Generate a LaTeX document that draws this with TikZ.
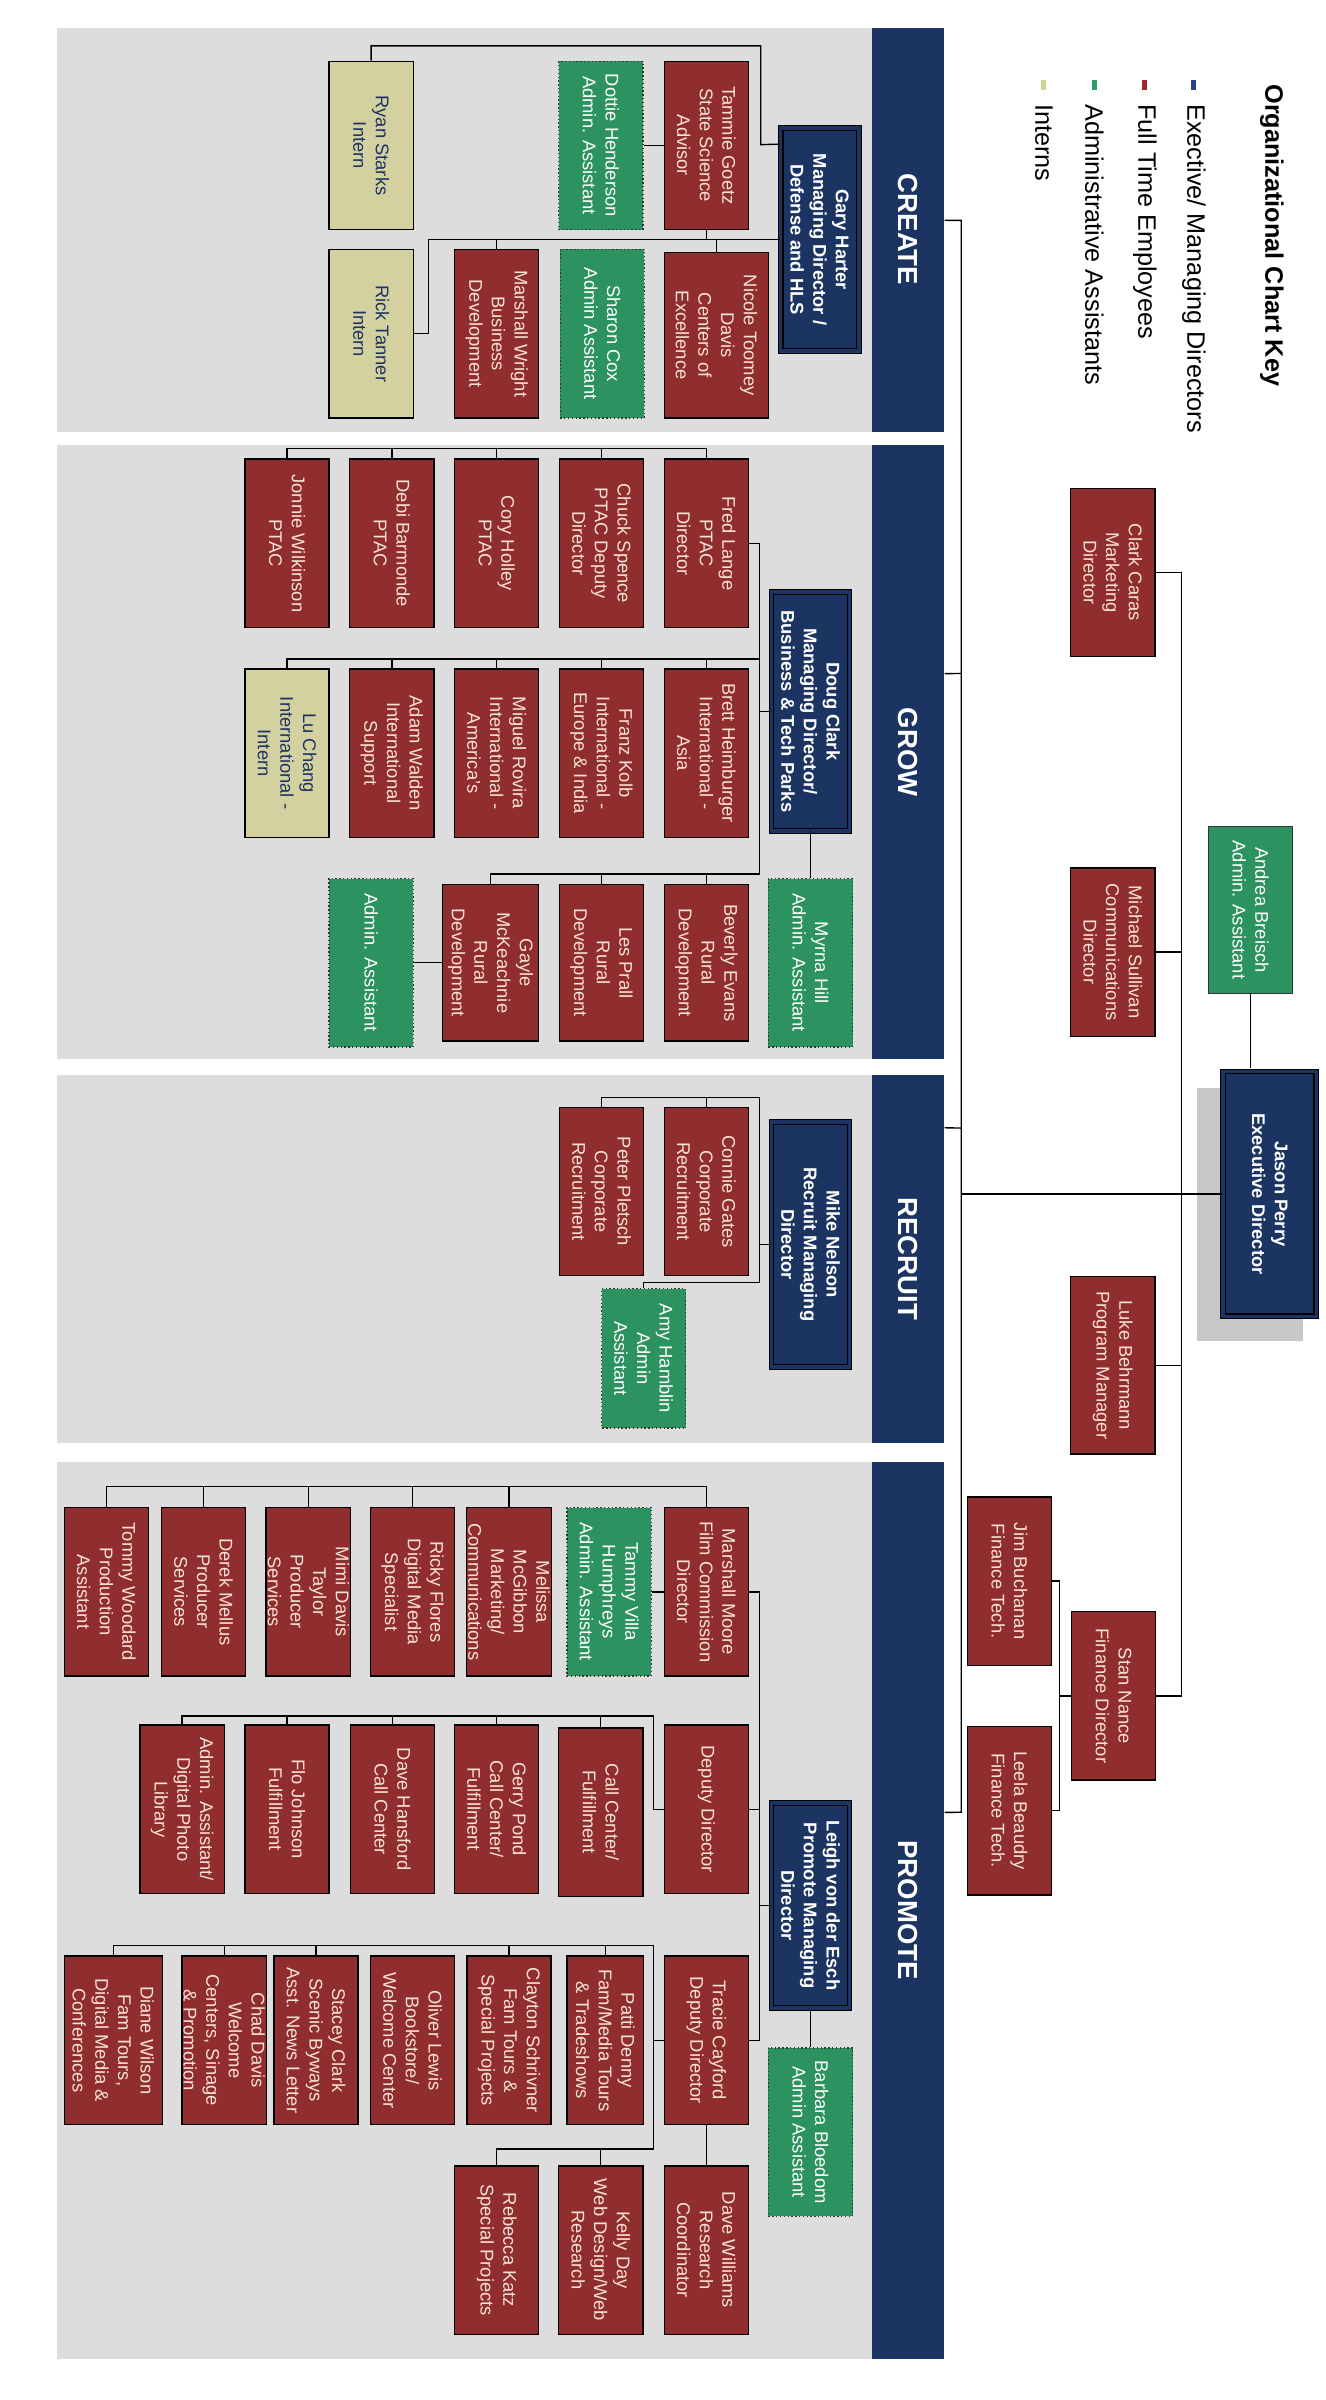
\documentclass[tikz,border=0pt]{standalone}
\usepackage{fontspec}
\setmainfont{Liberation Sans}
\usetikzlibrary{calc}

\definecolor{navy}{RGB}{27,52,97}
\definecolor{staffred}{RGB}{143,45,47}
\definecolor{stafftext}{RGB}{250,226,214}
\definecolor{admingreen}{RGB}{44,146,96}
\definecolor{internolive}{RGB}{211,209,160}
\definecolor{interntext}{RGB}{30,50,100}
\definecolor{panelgray}{RGB}{221,221,221}
\definecolor{shadowgray}{RGB}{200,200,200}
\definecolor{keyblue}{RGB}{44,62,145}
\definecolor{keyred}{RGB}{160,38,42}
\definecolor{keygreen}{RGB}{46,156,102}
\definecolor{keyolive}{RGB}{201,216,142}

\begin{document}
\begin{tikzpicture}[x=1pt, y=1pt,
        orgbox/.style={rectangle, draw=black, line width=0.9pt, align=center, inner sep=1pt, font=\fontsize{12}{14.8}\selectfont, minimum width=110pt, minimum height=55pt},
        staff/.style={orgbox, fill=staffred, text=stafftext},
        admin/.style={orgbox, fill=admingreen, text=white, draw=black!80, dash pattern=on 0.9pt off 1.6pt},
        intern/.style={orgbox, fill=internolive, text=interntext},
        boss/.style={orgbox, fill=navy, text=white, font=\fontsize{12}{14.8}\selectfont\bfseries, line width=0.7pt, double=navy, double distance=2.4pt, minimum height=51pt},
        sect/.style={rectangle, fill=navy, text=white, font=\fontsize{18}{20}\selectfont\bfseries, minimum height=47pt},
        keymark/.style={rectangle, inner sep=0pt, minimum width=6.5pt, minimum height=3.3pt},
        keytext/.style={anchor=west, inner sep=0pt, font=\fontsize{16.5}{18}\selectfont},
        wire/.style={draw=black, line width=0.9pt}]

    \useasboundingbox (0,0) rectangle (866,-1568);

    \begin{scope}[rotate=-90, transform shape]

        % Panels
        \fill[panelgray] (18,37) rectangle (282,617);
        \fill[panelgray] (291,37) rectangle (692,617);
        \fill[panelgray] (702,37) rectangle (943,617);
        \fill[panelgray] (955,37) rectangle (1541,617);

        \node[sect, minimum width=264pt] (create) at (150,593.5) {CREATE};
        \node[sect, minimum width=401pt] (grow) at (491.5,593.5) {GROW};
        \node[sect, minimum width=241pt] (recruit) at (822.5,593.5) {RECRUIT};
        \node[sect, minimum width=586pt] (promote) at (1248,593.5) {PROMOTE};

        % Key
        \node[font=\fontsize{16.5}{18}\selectfont\bfseries, anchor=west, inner sep=0pt] (keytitle) at (55,831) {Organizational Chart Key};
        \node[keymark, fill=keyblue] (mark1) at (55.5,780) {};
        \node[keytext] (key1) at (68,780) {Exective/ Managing Directors};
        \node[keymark, fill=keyred] (mark2) at (55.5,748) {};
        \node[keytext] (key2) at (68,748) {Full Time Employees};
        \node[keymark, fill=keygreen] (mark3) at (55.5,715) {};
        \node[keytext] (key3) at (68,715) {Administrative Assistants};
        \node[keymark, fill=keyolive] (mark4) at (55.5,682) {};
        \node[keytext] (key4) at (68,682) {Interns};

        % Executive
        \fill[shadowgray] (711,782) rectangle (876,851);
        \node[boss, minimum width=160pt, minimum height=61pt] (jperry) at (780,829.5) {Jason Perry\\Executive Director};
        \node[admin, solid, minimum width=109pt] (abreisch) at (594.5,817) {Andrea Breisch\\Admin. Assistant};
        \node[staff] (ccaras) at (374,727) {Clark Caras\\Marketing\\Director};
        \node[staff] (msullivan) at (622,727) {Michael Sullivan\\Communications\\Director};
        \node[staff, minimum width=116pt] (lbehrmann) at (892,727) {Luke Behrmann\\Program Manager};
        \node[staff] (snance) at (1108,727.5) {Stan Nance\\Finance Director};
        \node[staff] (jbuchanan) at (1033,659.5) {Jim Buchanan\\Finance Tech.};
        \node[staff] (lbeaudry) at (1183,659.5) {Leela Beaudry\\Finance Tech.};

        \draw[wire] (abreisch) -- (698,817);
        \draw[wire] (jperry) -- (780,628);
        \draw[wire] (ccaras) -- (374,772) -- (1108,772) -- (snance);
        \draw[wire] (msullivan) -- (622,772);
        \draw[wire] (lbehrmann) -- (892,772);
        \draw[wire] (snance) -- (1108,692);
        \draw[wire] (jbuchanan) -- (1033,692) -- (1183,692) -- (lbeaudry);

        % Spine to the four sections
        \draw[wire] ($(create.north west)!.477!(create.north east)$) -- (144,628) -- (1184,628) -- ($(promote.north west)!.391!(promote.north east)$);
        \draw[wire] ($(grow.north west)!.372!(grow.north east)$) -- (440,628);
        \draw[wire] ($(recruit.north west)!.145!(recruit.north east)$) -- (737,628);

        % Create
        \node[boss, minimum width=146pt] (gharter) at (156.5,535.5) {Gary Harter\\Managing Director /\\Defense and HLS};
        \node[staff] (tgoetz) at (95,461.5) {Tammie Goetz\\State Science\\Advisor};
        \node[staff, minimum width=108pt, minimum height=68pt] (ntoomey) at (219,468) {Nicole Toomey\\Davis\\Centers of\\Excellence};
        \node[admin] (dhenderson) at (95,392.5) {Dottie Henderson\\Admin. Assistant};
        \node[admin] (scox) at (218,393.5) {Sharon Cox\\Admin Assistant};
        \node[staff] (mwright) at (218,324.5) {Marshall Wright\\Business\\Development};
        \node[intern] (rstarks) at (95,242.5) {Ryan Starks\\Intern};
        \node[intern] (rtanner) at (218,242.5) {Rick Tanner\\Intern};

        \draw[wire] (gharter) -- (156.5,280) -- (218,280) -- (rtanner);
        \draw[wire] (tgoetz) -- (156.5,461.5);
        \draw[wire] (ntoomey) -- (156.5,468);
        \draw[wire] (mwright) -- (156.5,324.5);
        \draw[wire] (tgoetz) -- (dhenderson);
        \draw[wire] (gharter.south west) ++(11,0) -- (94.5,497) -- (30,497) -- (30,242.5) -- (rstarks);

        % Grow
        \node[boss, minimum width=156pt] (dclark) at (464.75,529.5) {Doug Clark\\Managing Director/\\Business \& Tech Parks};
        \node[admin] (mhill) at (629,529.5) {Myrna Hill\\Admin. Assistant};
        \node[staff] (flange) at (355,461.5) {Fred Lange\\PTAC\\Director};
        \node[staff] (cspence) at (355,393) {Chuck Spence\\PTAC Deputy\\Director};
        \node[staff] (cholley) at (355,324.5) {Cory Holley\\PTAC};
        \node[staff] (dbarmonde) at (355,256) {Debi Barmonde\\PTAC};
        \node[staff] (jwilkinson) at (355,187.5) {Jonnie Wilkinson\\PTAC};
        \node[staff] (bheimburger) at (492,461.5) {Brett Heimburger\\International -\\Asia};
        \node[staff] (fkolb) at (492,393) {Franz Kolb\\International -\\Europe \& India};
        \node[staff] (mrovira) at (492,324.5) {Miguel Rovira\\International -\\America's};
        \node[staff] (awalden) at (492,256) {Adam Walden\\International\\Support};
        \node[intern] (lchang) at (492,187.5) {Lu Chang\\International -\\Intern};
        \node[staff, minimum width=102pt] (bevans) at (629,461.5) {Beverly Evans\\Rural\\Development};
        \node[staff, minimum width=102pt] (lprall) at (629,393) {Les Prall\\Rural\\Development};
        \node[staff, minimum width=102pt, minimum height=63pt] (gmckeachnie) at (629,320.5) {Gayle\\McKeachnie\\Rural\\Development};
        \node[admin] (gadmin) at (629,242.5) {Admin. Assistant};

        \draw[wire] (dclark) -- (mhill);
        \draw[wire] (dclark) -- (464.75,496);
        \draw[wire] (flange) -- (355,496) -- (571,496) -- (571,320.5) -- (gmckeachnie);
        \draw[wire] (bevans) -- (571,461.5);
        \draw[wire] (lprall) -- (571,393);
        \draw[wire] (gmckeachnie) -- (gadmin);
        \draw[wire] (jwilkinson) -- (293,187.5) -- (293,461.5) -- (flange);
        \foreach \n/\y in {cspence/393, cholley/324.5, dbarmonde/256}
            \draw[wire] (\n) -- (293,\y);
        \draw[wire] (lchang) -- (430.6,187.5) -- (430.6,496);
        \foreach \n/\y in {bheimburger/461.5, fkolb/393, mrovira/324.5, awalden/256}
            \draw[wire] (\n) -- (430.6,\y);

        % Recruit
        \node[boss, minimum width=160pt] (mnelson) at (813,529.5) {Mike Nelson\\Recruit Managing\\Director};
        \node[staff] (cgates) at (778.5,461.5) {Connie Gates\\Corporate\\Recruitment};
        \node[staff] (ppletsch) at (778.5,393) {Peter Pletsch\\Corporate\\Recruitment};
        \node[admin, minimum width=91pt] (ahamblin) at (887.5,420.5) {Amy Hamblin\\Admin\\Assistant};

        \draw[wire] (mnelson) -- (813,496);
        \draw[wire] (ppletsch) -- (717,393) -- (717,496) -- (838,496) -- (838,420.5) -- (ahamblin);
        \draw[wire] (cgates) -- (717,461.5);

        % Promote
        \node[boss, minimum width=134pt] (lvonderesch) at (1245,529.5) {Leigh von der Esch\\Promote Managing\\Director};
        \node[admin] (bbloedom) at (1393,529.5) {Barbara Bloedom\\Admin Assistant};
        \node[staff] (mmoore) at (1040,461.5) {Marshall Moore\\Film Commission\\Director};
        \node[staff] (ddirector) at (1182,461.5) {Deputy Director};
        \node[staff] (tcayford) at (1333,461.5) {Tracie Cayford\\Deputy Director};
        \node[staff] (dwilliams) at (1470,461.5) {Dave Williams\\Research\\Coordinator};

        \draw[wire] (lvonderesch) -- (bbloedom);
        \draw[wire] (lvonderesch) -- (1245,496);
        \draw[wire] (mmoore) -- (1040,496) -- (1333,496) -- (tcayford);
        \draw[wire] (ddirector) -- (1182,496);
        \draw[wire] (tcayford) -- (dwilliams);

        % Film commission
        \node[admin] (tvilla) at (1040,398) {Tammy Villa\\Humphreys\\Admin. Assistant};
        \node[staff] (mmcgibbon) at (1040,332.5) {Melissa\\McGibbon\\Marketing/\\Communications};
        \node[staff] (rflores) at (1040,269.5) {Ricky Flores\\Digital Media\\Specialist};
        \node[staff] (mdavis) at (1040,201.5) {Mimi Davis\\Taylor\\Producer\\Services};
        \node[staff] (dmellus) at (1040,133) {Derek Mellus\\Producer\\Services};
        \node[staff] (twoodard) at (1040,69.5) {Tommy Woodard\\Production\\Assistant};

        \draw[wire] (mmoore) -- (tvilla);
        \draw[wire] (twoodard) -- (971,69.5) -- (971,461.5) -- (mmoore);
        \foreach \n/\y in {mmcgibbon/332.5, rflores/269.5, mdavis/201.5, dmellus/133}
            \draw[wire] (\n) -- (971,\y);

        % Deputy director
        \node[staff] (callcenter) at (1184,392.5) {Call Center/\\Fulfillment};
        \node[staff] (gpond) at (1182,324.5) {Gerry Pond\\Call Center/\\Fulfillment};
        \node[staff] (dhansford) at (1182,256.5) {Dave Hansford\\Call Center};
        \node[staff] (fjohnson) at (1182,187.5) {Flo Johnson\\Fulfillment};
        \node[staff] (aassistant) at (1182,119) {Admin. Assistant/\\Digital Photo\\Library};

        \draw[wire] (ddirector) -- (1182,427) -- (1121,427) -- (1121,119) -- (aassistant);
        \foreach \n/\y in {callcenter/392.5, gpond/324.5, dhansford/256.5, fjohnson/187.5}
            \draw[wire] (\n) -- (1121,\y);

        % Tracie Cayford
        \node[staff, minimum height=50pt] (pdenny) at (1333,395.5) {Patti Denny\\Fam/Media Tours\\\& Tradeshows};
        \node[staff] (cschrivner) at (1333,332.5) {Clayton Schrivner\\Fam Tours \&\\Special Projects};
        \node[staff] (olewis) at (1333,269.5) {Oliver Lewis\\Bookstore/\\Welcome Center};
        \node[staff] (sclark) at (1333,206.5) {Stacey Clark\\Scenic Byways\\Asst. News Letter};
        \node[staff] (cdavis) at (1333,146.5) {Chad Davis\\Welcome\\Centers, Sinage\\\& Promotion};
        \node[staff, minimum height=64pt] (dwilson) at (1333,74) {Diane Wilson\\Fam Tours,\\Digital Media \&\\Conferences};
        \node[staff] (kday) at (1470,392.5) {Kelly Day\\Web Design/Web\\Research};
        \node[staff] (rkatz) at (1470,324.5) {Rebecca Katz\\Special Projects};

        \draw[wire] (tcayford) -- (1333,427);
        \draw[wire] (dwilson) -- (1271,74) -- (1271,427) -- (1404,427) -- (1404,324.5) -- (rkatz);
        \foreach \n/\y in {pdenny/395.5, cschrivner/332.5, sclark/206.5, cdavis/146.5}
            \draw[wire] (\n) -- (1271,\y);
        \draw[wire] (kday) -- (1404,392.5);

    \end{scope}
\end{tikzpicture}
\end{document}
